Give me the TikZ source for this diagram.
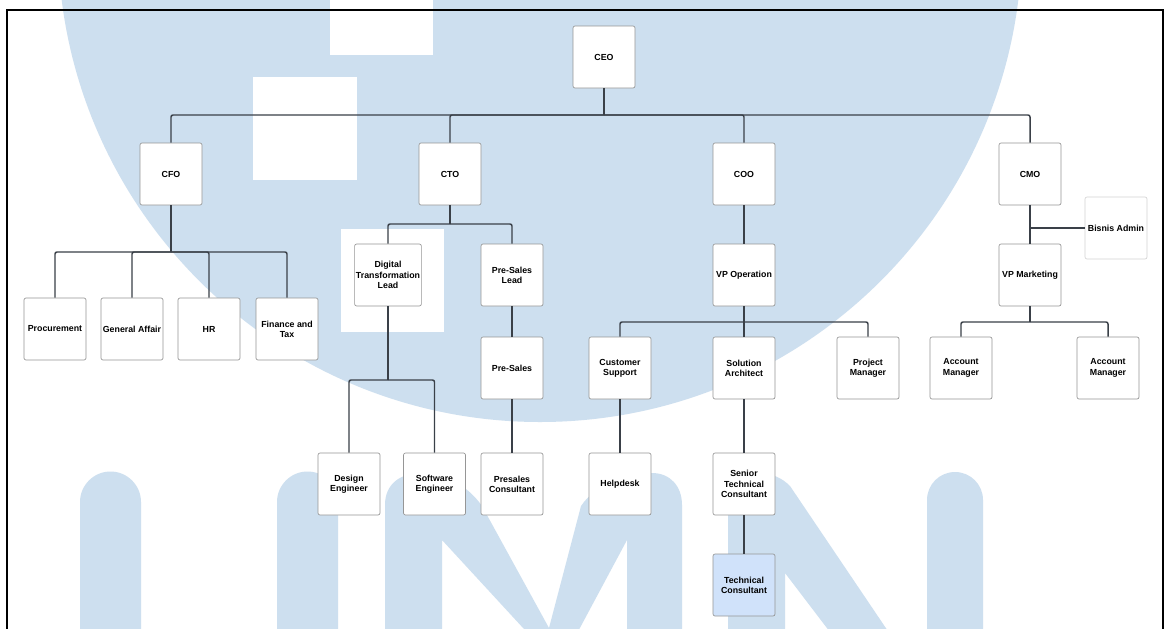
\documentclass[tikz,border=0pt]{standalone}
\usepackage{fontspec}
\setmainfont{Liberation Sans}
\definecolor{wmblue}{RGB}{205,223,239}
\definecolor{tcfill}{RGB}{208,226,250}
\definecolor{boxline}{RGB}{150,150,150}
\definecolor{faintline}{RGB}{212,212,212}
\definecolor{connline}{RGB}{58,64,72}
\begin{document}
\begin{tikzpicture}[x=0.75pt,y=-0.75pt,
  orgbox/.style={draw=boxline, line width=0.5pt, fill=white, rounded corners=1.5pt,
    minimum width=46.5pt, minimum height=46.5pt, inner sep=1pt, align=center,
    font=\bfseries\fontsize{6.6}{7.7}\selectfont, text=black},
  tcbox/.style={orgbox, fill=tcfill},
  faintbox/.style={orgbox, draw=faintline},
  conn/.style={draw=connline, line width=1.1pt},
  bus/.style={conn, rounded corners=1.5pt}]
\useasboundingbox (0,0) rectangle (1166,628);
\clip (0,0) rectangle (1166,628);
\fill[white] (0,0) rectangle (1166,628);
% watermark
\fill[wmblue] (540,-60) circle[radius=361.5pt];
\fill[white] (330,-10) rectangle (433,55);
\fill[white] (253,77) rectangle (357,180);
\fill[white] (341,229) rectangle (444,332);
% U
\fill[wmblue] (80,700) -- (80,502) .. controls (80,485.2) and (93.7,471.5) .. (110.5,471.5)
  .. controls (127.3,471.5) and (141,485.2) .. (141,502) -- (141,700) -- cycle;
\fill[wmblue] (277,700) -- (277,502) .. controls (277,485.2) and (290.7,471.5) .. (307.5,471.5)
  .. controls (324.3,471.5) and (338,485.2) .. (338,502) -- (338,700) -- cycle;
% M
\fill[wmblue] (385,700) -- (385,505) .. controls (385,484) and (400,473) .. (422,473)
  .. controls (445,473) and (468,486) .. (482,506) -- (549,628) -- (581,506)
  .. controls (596,484) and (625,473) .. (652,473) .. controls (670,473) and (682,486) .. (682,505)
  -- (682,700) -- (627,700) -- (627,540) -- (559,667) -- (442,540) -- (442,700) -- cycle;
% N
\fill[wmblue] (728,720) -- (728,505) .. controls (728,487) and (740,473) .. (757,473)
  .. controls (772,473) and (782,478) .. (790,486) -- (927,689) -- (927,500)
  .. controls (927,484.5) and (939.5,472) .. (955,472) .. controls (970.5,472) and (983,484.5) .. (983,500)
  -- (983,720) -- (897,720) -- (785,573) -- (785,720) -- cycle;
% frame
\draw[line width=1.5pt, black] (7,10) rectangle (1163,700);
% nodes
\node[orgbox] (ceo) at (604,57) {CEO};
\node[orgbox] (cfo) at (171,174) {CFO};
\node[orgbox] (cto) at (450,174) {CTO};
\node[orgbox] (coo) at (744,174) {COO};
\node[orgbox] (cmo) at (1030,174) {CMO};
\node[orgbox] (proc) at (55,329) {Procurement};
\node[orgbox] (ga) at (132,329) {General Affair};
\node[orgbox] (hr) at (209,329) {HR};
\node[orgbox] (fin) at (287,329) {Finance and\\Tax};
\node[orgbox] (dtl) at (388,275) {Digital\\Transformation\\Lead};
\node[orgbox] (psl) at (512,275) {Pre-Sales\\Lead};
\node[orgbox] (de) at (349,484) {Design\\Engineer};
\node[orgbox] (se) at (434.5,484) {Software\\Engineer};
\node[orgbox] (ps) at (512,368) {Pre-Sales};
\node[orgbox] (pc) at (512,484) {Presales\\Consultant};
\node[orgbox] (vpo) at (744,275) {VP Operation};
\node[orgbox] (cs) at (620,368) {Customer\\Support};
\node[orgbox] (sa) at (744,368) {Solution\\Architect};
\node[orgbox] (pm) at (868,368) {Project\\Manager};
\node[orgbox] (hd) at (620,484) {Helpdesk};
\node[orgbox] (stc) at (744,484) {Senior\\Technical\\Consultant};
\node[tcbox] (tc) at (744,585) {Technical\\Consultant};
\node[orgbox] (vpm) at (1030,275) {VP Marketing};
\node[faintbox] (ba) at (1116,228) {Bisnis Admin};
\node[orgbox] (am1) at (961,368) {Account\\Manager};
\node[orgbox] (am2) at (1108,368) {Account\\Manager};
% bus coordinates
\coordinate (b0) at (604,115);
\coordinate (b1) at (171,252);
\coordinate (b2) at (450,224);
\coordinate (b3) at (388,380);
\coordinate (b4) at (744,322);
\coordinate (b5) at (1030,322);
% connectors
\draw[conn] (ceo.south) -- (ceo.south |- b0);
\foreach \n in {cfo,cto,coo,cmo} \draw[bus] (ceo.south |- b0) -| (\n.north);
\draw[conn] (cfo.south) -- (cfo.south |- b1);
\foreach \n in {proc,ga,hr,fin} \draw[bus] (cfo.south |- b1) -| (\n.north);
\draw[conn] (cto.south) -- (cto.south |- b2);
\foreach \n in {dtl,psl} \draw[bus] (cto.south |- b2) -| (\n.north);
\draw[conn] (dtl.south) -- (dtl.south |- b3);
\foreach \n in {de,se} \draw[bus] (dtl.south |- b3) -| (\n.north);
\draw[conn] (psl.south) -- (ps.north);
\draw[conn] (ps.south) -- (pc.north);
\draw[conn] (coo.south) -- (vpo.north);
\draw[conn] (vpo.south) -- (vpo.south |- b4);
\foreach \n in {cs,sa,pm} \draw[bus] (vpo.south |- b4) -| (\n.north);
\draw[conn] (cs.south) -- (hd.north);
\draw[conn] (sa.south) -- (stc.north);
\draw[conn] (stc.south) -- (tc.north);
\draw[conn] (cmo.south) -- (vpm.north);
\draw[conn] (ba.west) -- (ba.west -| cmo.south);
\draw[conn] (vpm.south) -- (vpm.south |- b5);
\foreach \n in {am1,am2} \draw[bus] (vpm.south |- b5) -| (\n.north);
\end{tikzpicture}
\end{document}
